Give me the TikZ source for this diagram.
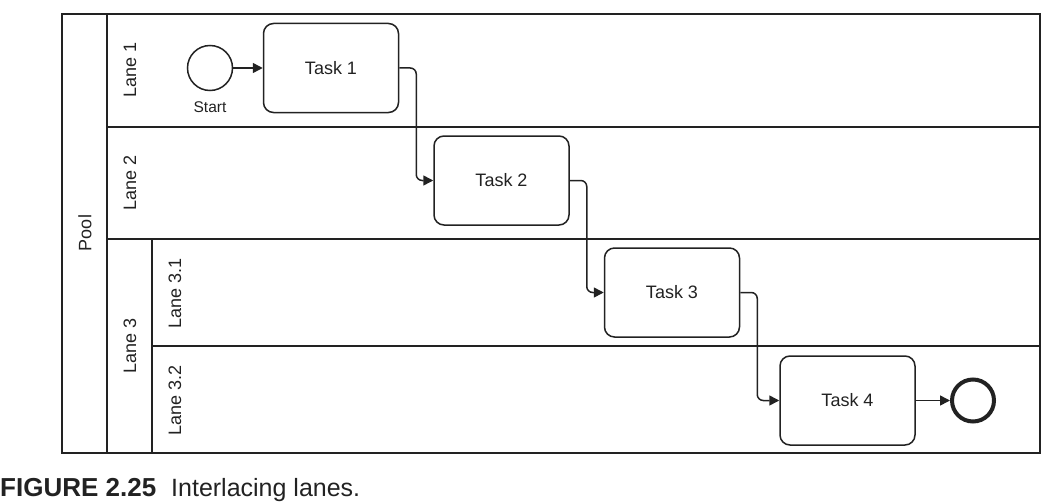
\documentclass[tikz,border=0pt]{standalone}
\usepackage{fontspec}
\setmainfont{Liberation Sans}
\usetikzlibrary{arrows.meta}
\definecolor{ink}{HTML}{222222}
\begin{document}
\begin{tikzpicture}[x=1pt,y=-1pt,
  line/.style={draw=ink,line width=1.5pt},
  lbl/.style={text=ink,font=\fontsize{18}{20}\selectfont,inner sep=0pt,rotate=90},
  task/.style={draw=ink,line width=1.5pt,rounded corners=10pt,minimum width=135pt,minimum height=89pt,inner sep=0pt,text=ink,font=\fontsize{18}{20}\selectfont},
  flow/.style={draw=ink,line width=1.5pt,rounded corners=6pt,-{Triangle[length=10pt,width=10pt]}},
  startev/.style={circle,draw=ink,line width=1.5pt,minimum size=45pt,inner sep=0pt},
  endev/.style={circle,draw=ink,line width=4pt,minimum size=42pt,inner sep=0pt}]
\useasboundingbox (0,0) rectangle (1057,503);
% pool and lanes
\draw[line] (62,14) rectangle (1040,453);
\draw[line] (107,14) -- (107,453);
\draw[line] (152,239) -- (152,453);
\draw[line] (107,127) -- (1040,127);
\draw[line] (107,239) -- (1040,239);
\draw[line] (152,346) -- (1040,346);
% labels
\node[lbl] (pool) at (85,233) {Pool};
\node[lbl] (l1) at (130,70) {Lane 1};
\node[lbl] (l2) at (130,183) {Lane 2};
\node[lbl] (l3) at (130,346) {Lane 3};
\node[lbl] (l31) at (175,293) {Lane 3.1};
\node[lbl] (l32) at (175,400) {Lane 3.2};
% events and tasks
\node[startev] (s) at (210,68) {};
\node[text=ink,font=\fontsize{15.5}{17}\selectfont,inner sep=0pt] (slbl) at (210,107) {Start};
\node[task] (t1) at (331,68) {Task 1};
\node[task] (t2) at (501.5,180.5) {Task 2};
\node[task] (t3) at (672,292.5) {Task 3};
\node[task] (t4) at (847.5,400.5) {Task 4};
\node[endev] (e) at (973,400.5) {};
% flows
\draw[flow] (s) -- (t1);
\draw[flow] (t1.east) -- ++(17,0) |- (t2.west);
\draw[flow] (t2.east) -- ++(17,0) |- (t3.west);
\draw[flow] (t3.east) -- ++(17,0) |- (t4.west);
\draw[flow] (t4) -- (e);
% caption
\node[anchor=base west,inner sep=0pt,text=ink,font=\fontsize{26}{28}\selectfont\bfseries] (cap1) at (0,496) {FIGURE 2.25};
\node[anchor=base west,inner sep=0pt,text=ink,font=\fontsize{25}{28}\selectfont] (cap2) at (171,496) {Interlacing lanes.};
\end{tikzpicture}
\end{document}
